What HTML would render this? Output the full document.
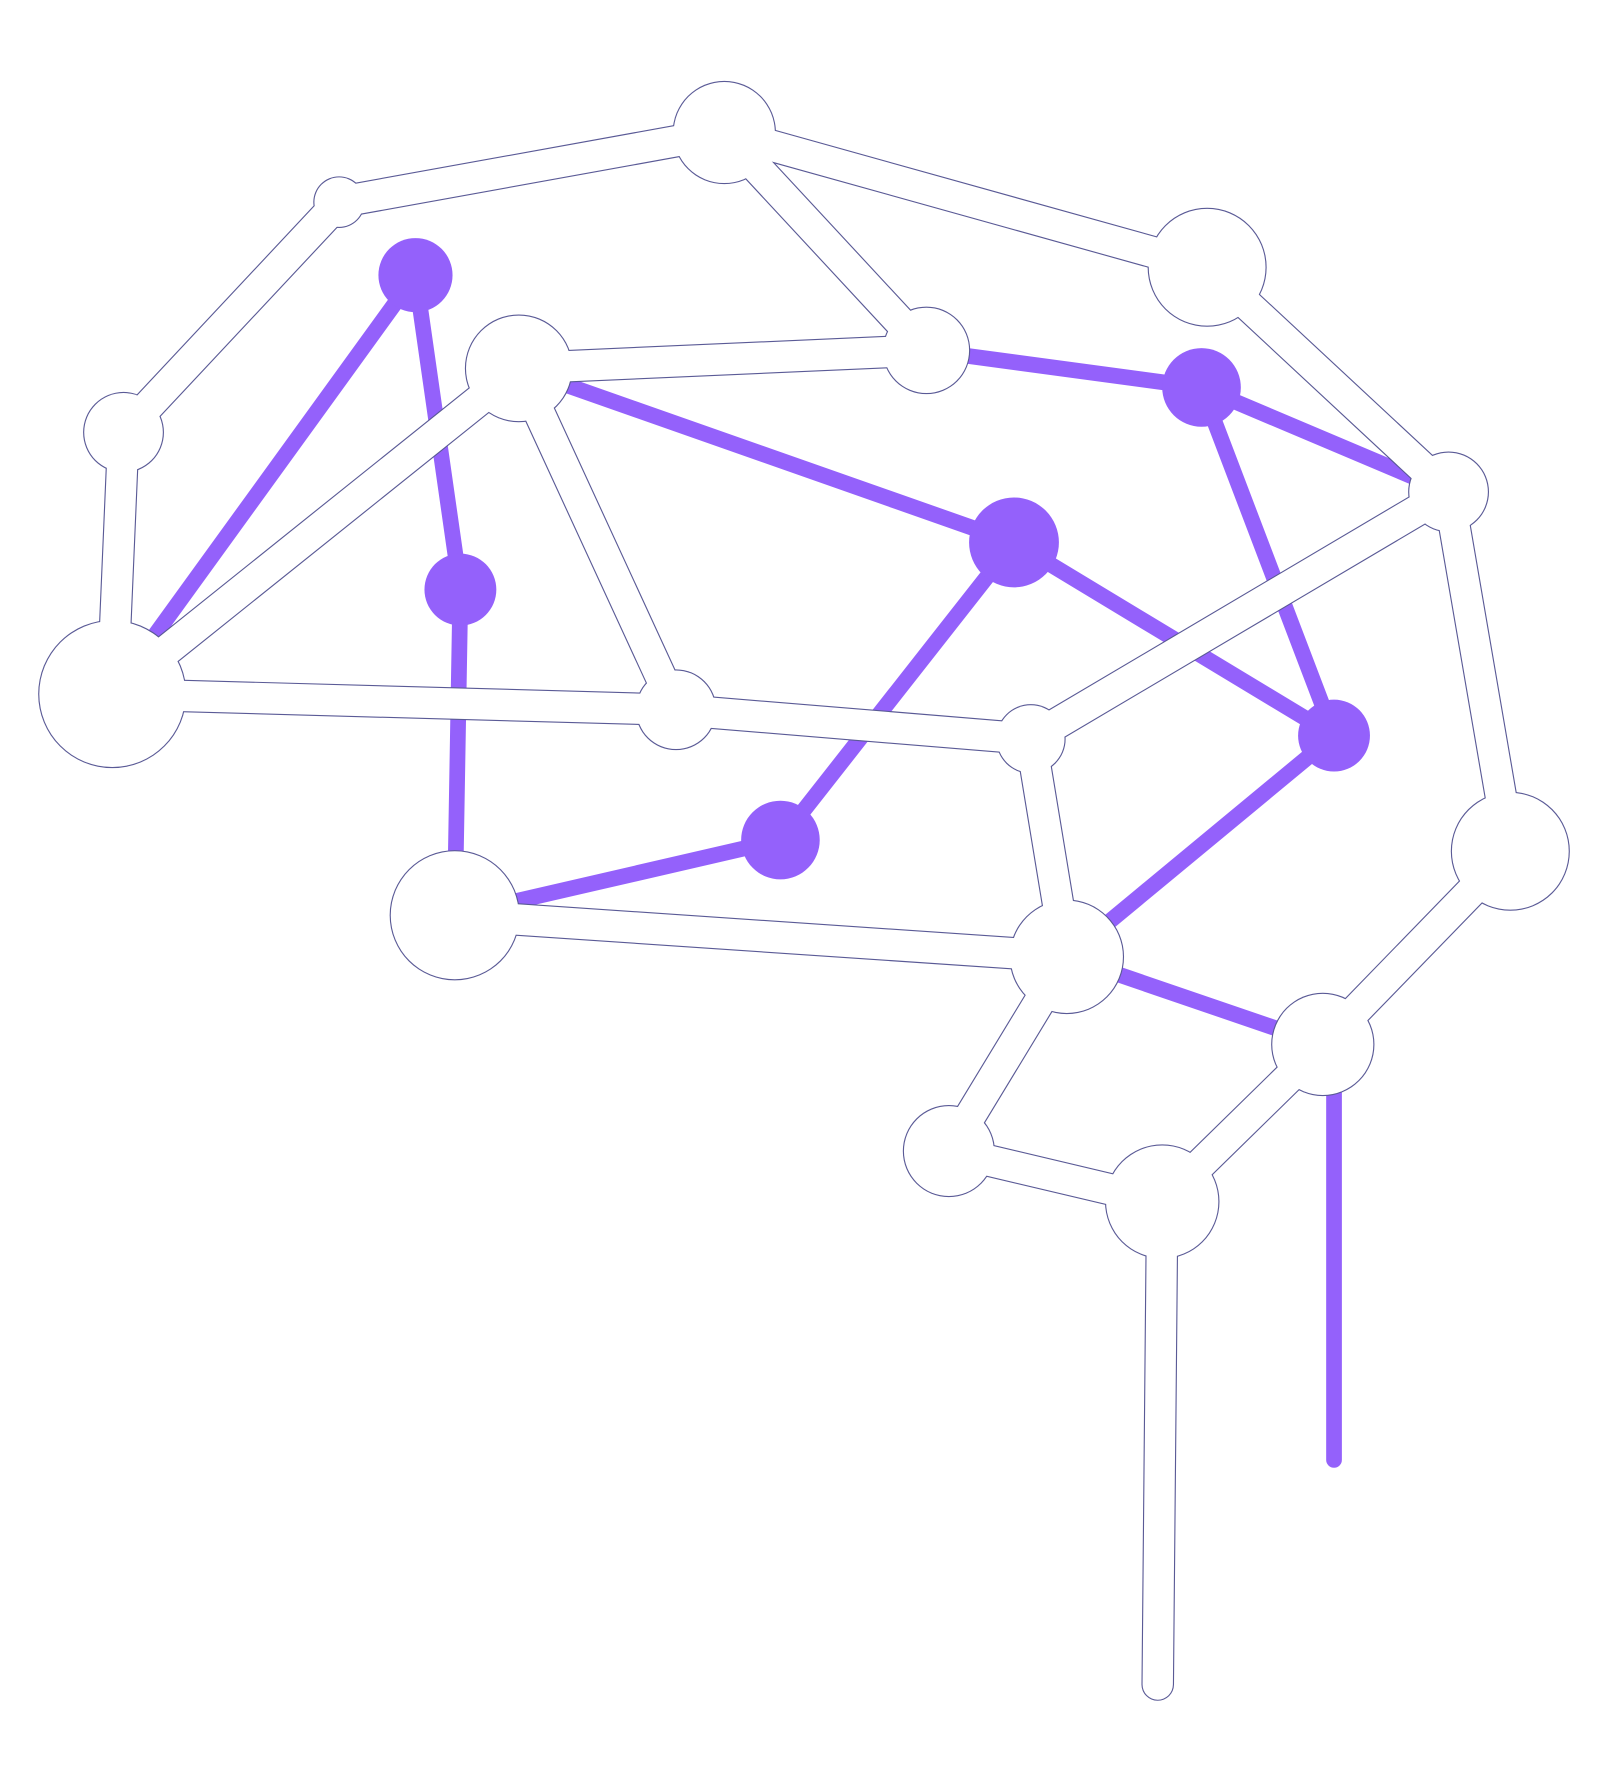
<!DOCTYPE html>
<html><head><meta charset="utf-8"><style>html,body{margin:0;padding:0;background:#fff}svg{display:block}</style></head>
<body>
<svg width="1617" height="1771" viewBox="0 0 1440 1577" preserveAspectRatio="none" xmlns="http://www.w3.org/2000/svg">
<g id="purple"></g>
<g id="outline"></g>
<g id="white"></g>
</svg>
<script>
const whiteNodes = {A:[645,118,45],B:[302,180,22],C:[1075,238,52],D:[110,385,35],E:[462,328,47],F:[825,312,38],G:[1290,438,35],H:[100,618,65],I:[602,632,35],J:[918,658,30],K:[1345,758,52],L:[405,815,57],M:[950,852,50],N:[1178,930,45],O:[845,1025,40],P:[1035,1070,50],Q:[1031,1500,0]};
const whiteEdges = [["B","A"],["A","C"],["A","F"],["F","E"],["B","D"],["D","H"],["E","H"],["E","I"],["H","I"],["I","J"],["J","G"],["C","G"],["G","K"],["J","M"],["L","M"],["M","O"],["O","P"],["P","N"],["N","K"],["P","Q"]];
const purpleNodes = {p1:[370,245,33],p2:[410,525,32],p3:[1070,345,35],p4:[903,483,40],p5:[1188,655,32],p6:[695,748,35],H:[100,618,0],L:[405,815,0],E:[462,328,0],M:[950,852,0],F:[825,312,0],G:[1290,438,0],N:[1178,930,0],S:[1188,960,0],T:[1188,1300,0]};
const purpleEdges = [["H","p1"],["p1","p2"],["p2","L"],["E","p4"],["p4","p6"],["p6","L"],["p4","p5"],["p5","M"],["F","p3"],["p3","G"],["p3","p5"],["M","N"],["S","T"]];
const NS="http://www.w3.org/2000/svg";
function mk(t,a,parent){const e=document.createElementNS(NS,t);for(const k in a)e.setAttribute(k,a[k]);parent.appendChild(e);return e;}
const gp=document.getElementById('purple'),go=document.getElementById('outline'),gw=document.getElementById('white');
purpleEdges.forEach(([a,b])=>{const p=purpleNodes[a],q=purpleNodes[b];
 const l=mk('line',{x1:p[0],y1:p[1],x2:q[0],y2:q[1],stroke:'#9461fb','stroke-width':14,'stroke-linecap':'round'},gp);
 
 });
Object.values(purpleNodes).forEach(n=>{if(!n[2])return;const c=mk('circle',{cx:n[0],cy:n[1],r:n[2],fill:'#9461fb'},gp);
 
 });
whiteEdges.forEach(([a,b])=>{const p=whiteNodes[a],q=whiteNodes[b];
 const o=mk('line',{x1:p[0],y1:p[1],x2:q[0],y2:q[1],stroke:'#5a5a96','stroke-width':29,'stroke-linecap':'round'},go);
 
 
 const l=mk('line',{x1:p[0],y1:p[1],x2:q[0],y2:q[1],stroke:'#fff','stroke-width':27,'stroke-linecap':'round'},gw);
 
 });
Object.values(whiteNodes).forEach(n=>{if(!n[2])return;
 const o=mk('circle',{cx:n[0],cy:n[1],r:n[2]+1,fill:'#5a5a96'},go);
 
 
 const c=mk('circle',{cx:n[0],cy:n[1],r:n[2],fill:'#fff'},gw);
 
 });
</script>
</body></html>
